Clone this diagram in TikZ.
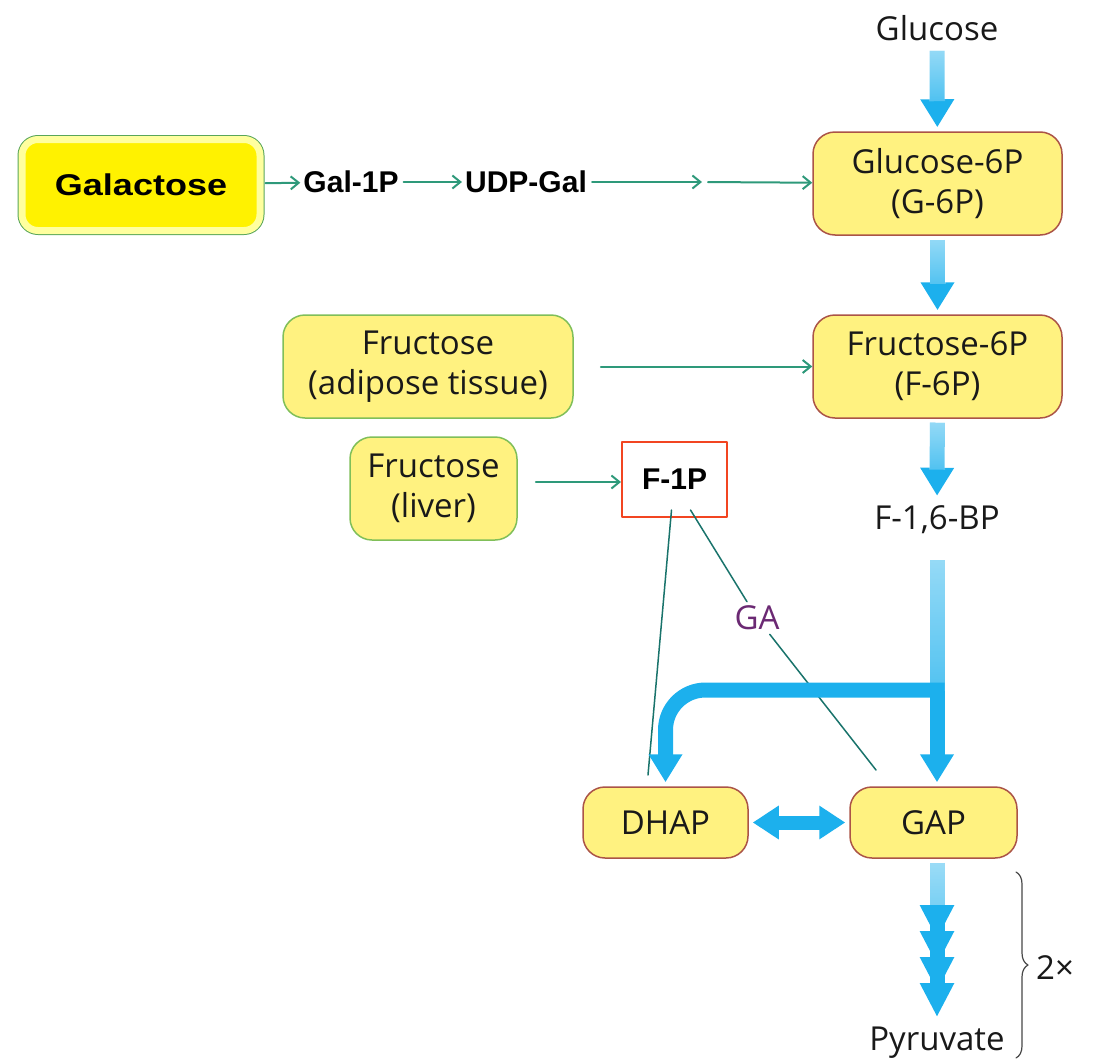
\documentclass[tikz,border=0pt]{standalone}
\usepackage{fontspec}
\setmainfont{Open Sans}
\newfontfamily\arialfont{Liberation Sans}
\newfontfamily\widefont[FakeStretch=1.2]{Liberation Sans}
\usetikzlibrary{arrows.meta,decorations.pathreplacing,fadings}
\definecolor{boxfill}{rgb}{1,0.95,0.5}
\definecolor{boxline}{rgb}{0.67,0.33,0.28}
\definecolor{fruline}{rgb}{0.5,0.75,0.35}
\definecolor{galgreen}{rgb}{0.35,0.65,0.35}
\definecolor{galpale}{rgb}{1,1,0.62}
\definecolor{arrgreen}{rgb}{0.18,0.6,0.48}
\definecolor{arrblue}{rgb}{0.11,0.69,0.93}
\definecolor{f1pred}{rgb}{0.95,0.27,0.13}
\definecolor{gapurple}{rgb}{0.42,0.16,0.45}
\definecolor{lineteal}{rgb}{0.1,0.45,0.42}
\definecolor{txtgray}{rgb}{0.1,0.1,0.1}

\begin{document}
\begin{tikzpicture}[line cap=round,line join=round,x=1pt,y=-1pt,
  font=\fontsize{33}{40}\selectfont,text=txtgray,
  plain/.style={inner sep=6pt},
  bold/.style={font=\arialfont\bfseries\fontsize{30}{36}\selectfont,text=black,inner sep=3pt},
  pathbox/.style={draw=boxline,line width=1.5pt,fill=boxfill,rounded corners=22pt,align=center,inner sep=0pt},
  frubox/.style={pathbox,draw=fruline},
  galbox/.style={fill=yellow,draw=galpale,line width=7pt,preaction={draw=galgreen,line width=9pt},
    rounded corners=16pt,minimum width=238pt,minimum height=91pt,inner sep=0pt},
  greenarr/.style={draw=arrgreen,line width=2pt,-{Straight Barb[length=8pt,width=13pt]},shorten <=2pt},
  bluearr/.style={draw=arrblue,line width=15pt,line cap=butt,-{Triangle[width=32pt,length=28pt]},
    shorten <=4pt,shorten >=4pt},
  paletop/.style={postaction={draw=white,arrows=-,line width=16pt,opacity=0.6,path fading=south,shorten >=#1}},
  paletop/.default=30pt,
  thinline/.style={draw=lineteal,line width=1.5pt}]
\useasboundingbox (0,0) rectangle (1095,1063);

\node[plain] (glc) at (937,28) {Glucose};
\node[pathbox,minimum width=249pt,minimum height=103pt] (g6p) at (937.5,183.5) {Glucose-6P\\(G-6P)};
\node[pathbox,minimum width=249pt,minimum height=103pt] (f6p) at (937.5,366.5) {Fructose-6P\\(F-6P)};
\node[plain] (fbp) at (937,520) {F-1,6-BP};
\node[pathbox,minimum width=167pt,minimum height=71pt] (gap) at (933.5,822.5) {GAP};
\node[pathbox,minimum width=165pt,minimum height=71pt] (dhap) at (665.5,822.5) {DHAP};
\node[plain] (pyr) at (937,1043) {Pyruvate};

\node[galbox,font=\widefont\bfseries\fontsize{30}{36}\selectfont,text=black] (gal) at (141,185) {Galactose};
\node[bold] (gal1p) at (351,182) {Gal-1P};
\node[bold] (udpgal) at (526,182) {UDP-Gal};
\node[frubox,minimum width=290pt,minimum height=103pt] (fadip) at (428,366.5) {Fructose\\(adipose tissue)};
\node[frubox,minimum width=167pt,minimum height=103pt] (fliv) at (433.5,488.5) {Fructose\\(liver)};
\node[bold,draw=f1pred,line width=2pt,minimum width=105pt,minimum height=75pt] (f1p) at (674.5,479.5) {F-1P};
\node[text=gapurple,inner sep=4pt] (ga) at (757,618) {GA};

\coordinate (mid) at (702,182);
\coordinate (br) at (944.5,690);
\coordinate (dl) at (648,775);
\coordinate (gl) at (876,770);
\coordinate (bt) at (1016,872);
\coordinate (bb) at (1016,1058);

\draw[greenarr] (gal) -- (gal1p);
\draw[greenarr] (gal1p) -- (udpgal);
\draw[greenarr] (udpgal) -- (mid);
\draw[greenarr,shorten <=6pt] (mid) -- (g6p);
\draw[greenarr] (fadip.east) ++(25,0) -- (f6p.west |- fadip.east);
\draw[greenarr] (fliv.east |- 0,482) ++(16,0) -- (f1p.west |- 0,482);

\draw[thinline] ([xshift=-3pt,yshift=8pt]f1p.south) -- (dl);
\draw[thinline] ([xshift=16pt,yshift=8pt]f1p.south) -- (ga);
\draw[thinline] (ga) -- (gl);

\draw[bluearr,paletop] (glc) -- (g6p);
\draw[bluearr,paletop] (g6p) -- (f6p);
\draw[bluearr,paletop] (f6p) -- (fbp);
\draw[bluearr,paletop=95pt,shorten <=20pt] (fbp) -- (gap.north -| fbp);
\draw[bluearr,rounded corners=40pt,shorten <=0pt] (br) -| (dhap);
\draw[bluearr,line width=14pt,{Triangle[width=32pt,length=26pt]}-{Triangle[width=32pt,length=26pt]}] (dhap) -- (gap);
\draw[bluearr,paletop=116pt,-{Triangle[width=32pt,length=34pt,sep=-8pt]Triangle[width=32pt,length=34pt,sep=-8pt]Triangle[width=32pt,length=34pt,sep=-8pt]Triangle[width=32pt,length=34pt]}] (gap.south -| pyr) -- (pyr);

\draw[draw=txtgray!80,line width=1.2pt,decorate,decoration={brace,amplitude=12pt}] (bt) -- (bb);
\node[plain,anchor=west] (twox) at (1030,968) {2×};
\end{tikzpicture}
\end{document}
